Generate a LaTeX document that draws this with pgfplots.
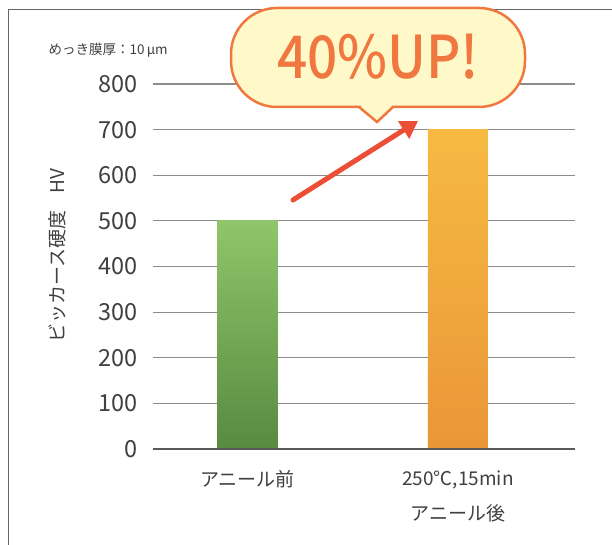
\documentclass[border=0pt]{standalone}
\usepackage{pgfplots}
\pgfplotsset{compat=1.18}
\usepackage{fontspec}
\setmainfont{Noto Sans CJK JP}
\newfontfamily\medfont{Noto Sans CJK JP Medium}
\usetikzlibrary{arrows.meta}
\definecolor{txt}{HTML}{404040}
\definecolor{gridc}{HTML}{8C8C8C}
\definecolor{orng}{HTML}{F07840}
\definecolor{bub}{HTML}{FFF8C8}
\definecolor{arr}{HTML}{EC4E36}
\begin{document}
\begin{tikzpicture}[x=1pt,y=1pt]
\useasboundingbox (0,0) rectangle (612,545);
\draw[gray!80!black, line width=1pt] (8,-5) -- (8,535) -- (620,535);
\begin{axis}[
  at={(153pt,96pt)}, anchor=south west,
  scale only axis, width=422pt, height=365pt,
  xmin=-0.449, xmax=1.556, ymin=0, ymax=800,
  ytick={0,100,...,800},
  xtick={0,1},
  xticklabels={アニール前, {250℃,15min\\アニール後}},
  xticklabel style={align=center, font=\fontsize{19}{35}\selectfont, text=txt, yshift=-18pt},
  yticklabel style={font=\fontsize{23.5}{24}\selectfont, text=txt, xshift=-12pt},
  /pgf/number format/assume math mode=true,
  axis line style={draw=none},
  major tick length=0pt,
  ymajorgrids, grid style={gridc, line width=1.2pt},
  ylabel={ビッカース硬度\hspace{0.9em}HV},
  ylabel style={font=\fontsize{19}{20}\selectfont, text=txt, at={(axis description cs:-0.2275,0.529)}, anchor=center},
  clip=false,
]
\addplot[ybar, bar width=60pt, bar shift=0pt, draw=none, shading=axis, top color={rgb,255:red,143;green,198;blue,106}, bottom color={rgb,255:red,88;green,138;blue,64}] coordinates {(0,500)};
\addplot[ybar, bar width=60pt, bar shift=0pt, draw=none, shading=axis, top color={rgb,255:red,246;green,186;blue,66}, bottom color={rgb,255:red,234;green,150;blue,56}] coordinates {(1,700)};
\draw[black!65, line width=2.7pt] (axis cs:-0.449,0) -- (axis cs:1.556,0);
\end{axis}
\node[anchor=west, text=txt, font=\fontsize{13.5}{15}\selectfont] at (45,495) {めっき膜厚：10\,\textit{μ}m};
% arrow
\draw[arr, line width=5pt, line cap=round, -{Triangle[length=17pt,width=20pt]}] (293,345) -- (418,424);
% bubble
\draw[orng, line width=2.5pt, fill=bub, rounded corners=46pt] (231,438) rectangle (525,537);
\fill[bub] (360.5,436.4) rectangle (391.5,440.5);
\fill[bub] (360,438) -- (377,423) -- (392,438) -- cycle;
\draw[orng, line width=2.5pt, line join=miter] (359,438) -- (377,423) -- (393,438);
\node[text=orng, font=\medfont\fontsize{59}{60}\selectfont, xscale=0.9] at (378,488) {40\%UP!};
\end{tikzpicture}
\end{document}
